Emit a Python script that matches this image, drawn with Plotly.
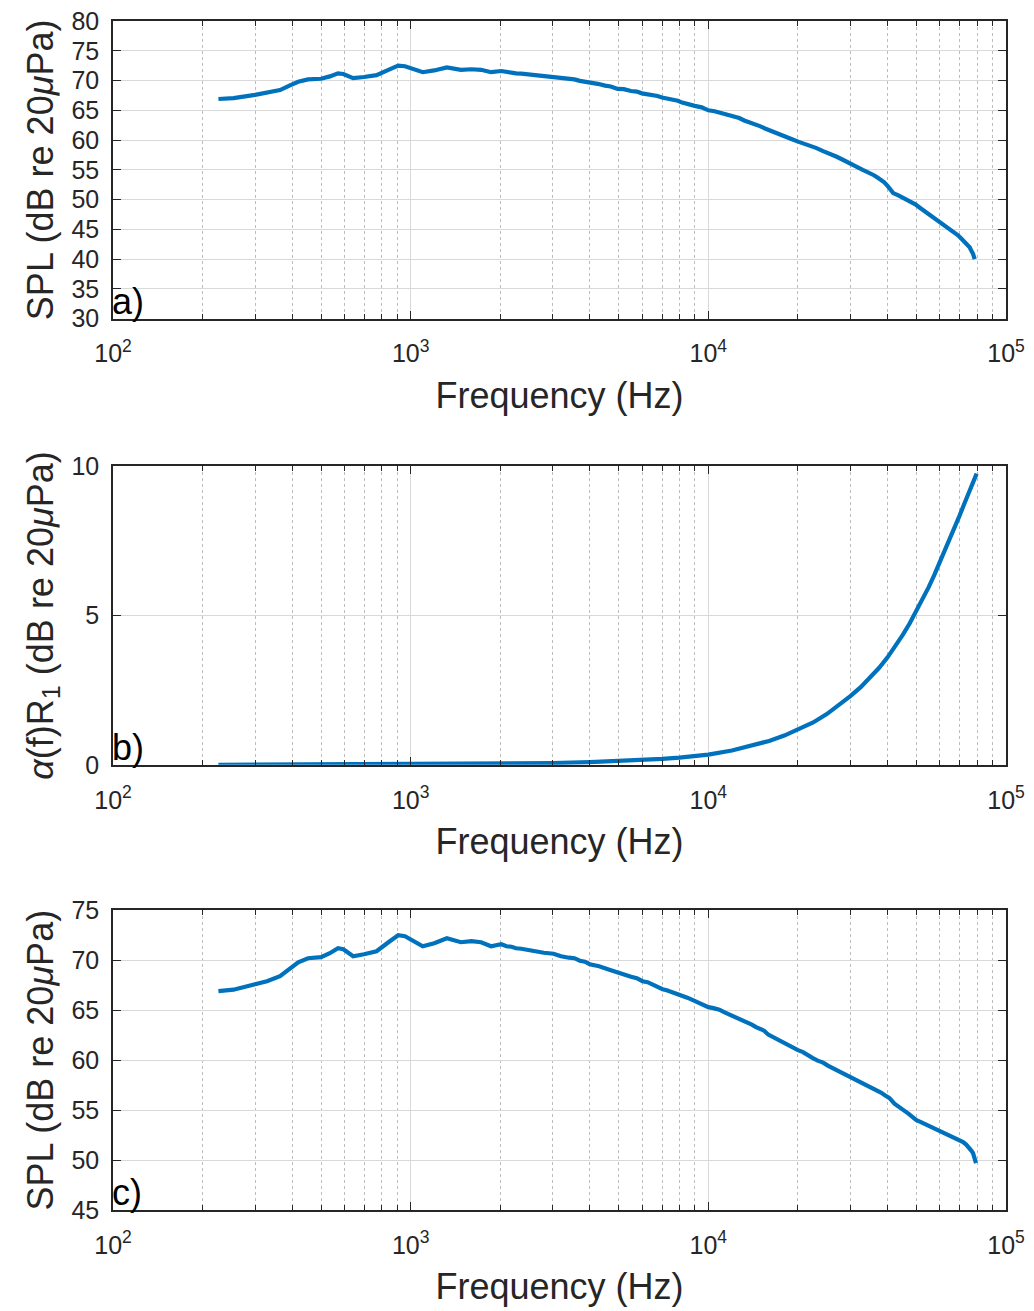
import plotly.graph_objects as go

# ---------------- data ----------------
freq_a = [226, 254, 300, 329, 364, 393, 419, 452, 500, 535, 570, 594, 641, 697, 768,
          842, 908, 957, 1021, 1098, 1200, 1323, 1475, 1600, 1724, 1862,
          2015, 2100, 2180, 2260, 2353, 2500, 2650, 2800, 3020, 3200, 3400, 3550, 3700,
          3850, 3995, 4250, 4500, 4700, 4960, 5200, 5500, 5750, 5985, 6250, 6500, 6750,
          6985, 7300, 7600, 7900, 8165, 8600, 9000, 9500, 10000, 10500, 11000, 11600,
          12220, 12700, 13200, 13700, 14280, 14900, 15500, 16100, 16690, 17500, 18300,
          19200, 20130, 21000, 22000, 23100, 24300, 25600, 27000, 28300, 29650, 31300,
          33020, 34500, 36000, 37000, 38180, 39000, 40000, 41000, 41800, 43500, 45500,
          47500, 49600, 51500, 53500, 55500, 57700, 59500, 61500, 63300, 65300, 67000,
          69000, 71000, 73000, 74500, 75500, 76500, 77500, 78500]
spl_a = [66.9, 67.05, 67.6, 67.9, 68.4, 69.2, 69.8, 70.2, 70.3, 70.7, 71.2, 71.1, 70.4,
         70.6, 70.9, 71.8, 72.5, 72.4, 71.9, 71.4, 71.7, 72.2, 71.8, 71.9, 71.8, 71.4,
         71.6, 71.4, 71.35, 71.2, 71.15, 71.0, 70.95, 70.75, 70.65, 70.4, 70.25, 70.2, 69.95,
         69.85, 69.6, 69.45, 69.15, 69.0, 68.6, 68.55, 68.25, 68.15, 67.85, 67.75, 67.55, 67.4,
         67.15, 67.0, 66.75, 66.6, 66.3, 66.1, 65.75, 65.5, 65.0, 64.85, 64.6, 64.3,
         63.95, 63.7, 63.3, 63.05, 62.6, 62.35, 61.95, 61.6, 61.2, 60.9, 60.45,
         60.1, 59.7, 59.4, 59.0, 58.65, 58.15, 57.75, 57.2, 56.7, 56.1, 55.6,
         55.0, 54.6, 54.1, 53.7, 53.3, 52.9, 52.3, 51.6, 51.1, 50.7, 50.25,
         49.7, 49.2, 48.6, 48.0, 47.5, 46.9, 46.4, 45.9, 45.4, 45.0, 44.5,
         44.0, 43.4, 42.8, 42.4, 42.0, 41.4, 40.9, 40.0]

freq_b = [226, 500, 1000, 2000, 3000, 4000, 5000, 6000, 7000, 8000, 9000, 10000, 12000,
          14000, 16000, 18000, 20000, 22500, 25000, 27500, 30000, 32500, 35000, 37500,
          40000, 42500, 45000, 47500, 50000, 52500, 55000, 57500, 60000, 62500, 65000,
          67500, 70000, 72500, 75000, 77500, 79700]
alpha_b = [0.003, 0.01, 0.02, 0.04, 0.06, 0.09, 0.12, 0.16, 0.2, 0.24, 0.29, 0.34, 0.48,
           0.64, 0.8, 0.98, 1.17, 1.42, 1.7, 2.0, 2.3, 2.6, 2.92, 3.25,
           3.6, 3.97, 4.35, 4.74, 5.14, 5.54, 5.95, 6.37, 6.79, 7.2, 7.6,
           7.99, 8.37, 8.75, 9.12, 9.45, 9.75]

freq_c = [226, 254, 300, 329, 364, 393, 419, 452, 500, 535, 570, 594, 641, 697, 768,
          842, 908, 957, 1021, 1098, 1200, 1323, 1475, 1600, 1724, 1862,
          2015, 2100, 2180, 2260, 2353, 2500, 2650, 2800, 3020, 3200, 3400, 3550, 3700,
          3850, 3995, 4296, 4650, 5012, 5250, 5500, 5750, 6010, 6250, 6500, 6750, 7016,
          7250, 7500, 7750, 7983, 8250, 8500, 8800, 9090, 9500, 10000, 10400, 10890,
          11300, 11800, 12200, 12700, 13100, 13500, 14000, 14460, 14900, 15400, 15900,
          16470, 17100, 17800, 18500, 19240, 20000, 20800, 21600, 22440, 23300, 24300,
          25200, 26200, 27300, 28400, 29500, 30590, 31800, 33000, 34300, 35700, 36800,
          38000, 39300, 40620, 42200, 43940, 45500, 47000, 48500, 50010, 51800, 53500,
          55200, 56900, 58700, 60500, 62500, 64700, 66300, 68000, 70000, 71760, 73500,
          75600, 76700, 77500, 78500, 79300]
spl_c = [66.9, 67.05, 67.6, 67.9, 68.4, 69.2, 69.8, 70.2, 70.3, 70.7, 71.2, 71.1, 70.4,
         70.6, 70.9, 71.8, 72.5, 72.4, 71.9, 71.4, 71.7, 72.2, 71.8, 71.9, 71.8, 71.4,
         71.6, 71.4, 71.35, 71.2, 71.15, 71.0, 70.95, 70.75, 70.65, 70.4, 70.25, 70.2, 69.95,
         69.85, 69.6, 69.4, 69.05, 68.7, 68.55, 68.35, 68.2, 67.9, 67.8, 67.55, 67.4, 67.1,
         67.0, 66.85, 66.75, 66.55, 66.45, 66.25, 66.05, 65.85, 65.6, 65.3, 65.2, 65.05,
         64.8, 64.55, 64.4, 64.1, 64.0, 63.8, 63.55, 63.3, 63.15, 62.95, 62.55,
         62.3, 62.1, 61.8, 61.55, 61.2, 61.0, 60.8, 60.45, 60.2, 59.95, 59.75,
         59.45, 59.2, 58.95, 58.7, 58.45, 58.2, 57.95, 57.7, 57.45, 57.2, 56.95,
         56.75, 56.45, 56.2, 55.65, 55.2, 54.95, 54.65, 54.35, 54.0, 53.8, 53.6,
         53.4, 53.2, 53.05, 52.9, 52.7, 52.5, 52.35, 52.2, 52.0, 51.8, 51.55,
         51.2, 50.9, 50.7, 50.2, 49.7]

x_tickvals = [100, 1000, 10000, 100000]
x_ticktext = ["10<sup>2</sup>", "10<sup>3</sup>", "10<sup>4</sup>", "10<sup>5</sup>"]
y_tickvals = [[30, 35, 40, 45, 50, 55, 60, 65, 70, 75, 80],
              [0, 5, 10],
              [45, 50, 55, 60, 65, 70, 75]]
y_titles = ["SPL (dB re 20<i>μ</i>Pa)",
            "<i>α</i>(f)R<sub>1</sub> (dB re 20<i>μ</i>Pa)",
            "SPL (dB re 20<i>μ</i>Pa)"]
panel_labels = ["a)", "b)", "c)"]
y_ranges = [[30, 80], [0, 10], [45, 75]]

# ---------------- styling ----------------
LINE = "#0072BD"
TXT = "#262626"
FONT = "Liberation Sans, Arial, sans-serif"

fig = go.Figure()
series = [(freq_a, spl_a), (freq_b, alpha_b), (freq_c, spl_c)]
for i, (fx, fy) in enumerate(series):
    sfx = "" if i == 0 else str(i + 1)
    fig.add_trace(go.Scatter(x=fx, y=fy, mode="lines",
                             line=dict(color=LINE, width=4.2),
                             xaxis="x" + sfx, yaxis="y" + sfx, showlegend=False))

domains = [[0.7496, 1.0], [0.3744, 0.6256], [0.0, 0.2521]]

layout = dict(
    width=1026, height=1303,
    margin=dict(l=105, r=28, t=13, b=101),
    paper_bgcolor="white", plot_bgcolor="white",
    font=dict(family=FONT, color=TXT, size=25),
)

for i in range(3):
    sfx = "" if i == 0 else str(i + 1)
    lo, hi = y_ranges[i]
    pad = (hi - lo) * 1e-5
    layout["xaxis" + sfx] = dict(
        type="log", range=[1.99995, 5.00005], anchor="y" + sfx,
        tickmode="array", tickvals=x_tickvals, ticktext=x_ticktext,
        ticks="inside", ticklen=8, tickwidth=1.2, tickcolor=TXT,
        showline=True, linecolor=TXT, linewidth=1.5, mirror="allticks",
        showgrid=True, gridcolor="#d9d9d9", gridwidth=1,
        minor=dict(dtick="D1", ticks="inside", ticklen=5, tickcolor=TXT,
                   showgrid=True, gridcolor="#bdbdbd", griddash="dot", gridwidth=1),
        tickfont=dict(size=25, color=TXT, family=FONT),
        ticklabelstandoff=12, ticklabeloverflow="allow",
        title=dict(text="Frequency (Hz)", font=dict(size=36, color=TXT, family=FONT),
                   standoff=16),
        automargin=False, zeroline=False,
    )
    layout["yaxis" + sfx] = dict(
        domain=domains[i], anchor="x" + sfx, range=[lo - pad, hi + pad],
        tickmode="array", tickvals=y_tickvals[i],
        ticks="inside", ticklen=8, tickwidth=1.2, tickcolor=TXT,
        showline=True, linecolor=TXT, linewidth=1.5, mirror="allticks",
        showgrid=True, gridcolor="#d9d9d9", gridwidth=1, zeroline=False,
        tickfont=dict(size=25, color=TXT, family=FONT),
        ticklabelstandoff=7, ticklabeloverflow="allow",
        title=dict(text=y_titles[i], font=dict(size=36, color=TXT, family=FONT),
                   standoff=7),
        automargin=False,
    )

annotations = []
for i in range(3):
    sfx = "" if i == 0 else str(i + 1)
    annotations.append(dict(text=panel_labels[i], xref="x" + sfx + " domain",
                            yref="y" + sfx + " domain", x=0.0, y=0.0,
                            xanchor="left", yanchor="bottom", showarrow=False,
                            xshift=-3, yshift=-5,
                            font=dict(size=36, color="black", family=FONT)))
layout["annotations"] = annotations

fig.update_layout(**layout)
fig.write_html("out.html")
